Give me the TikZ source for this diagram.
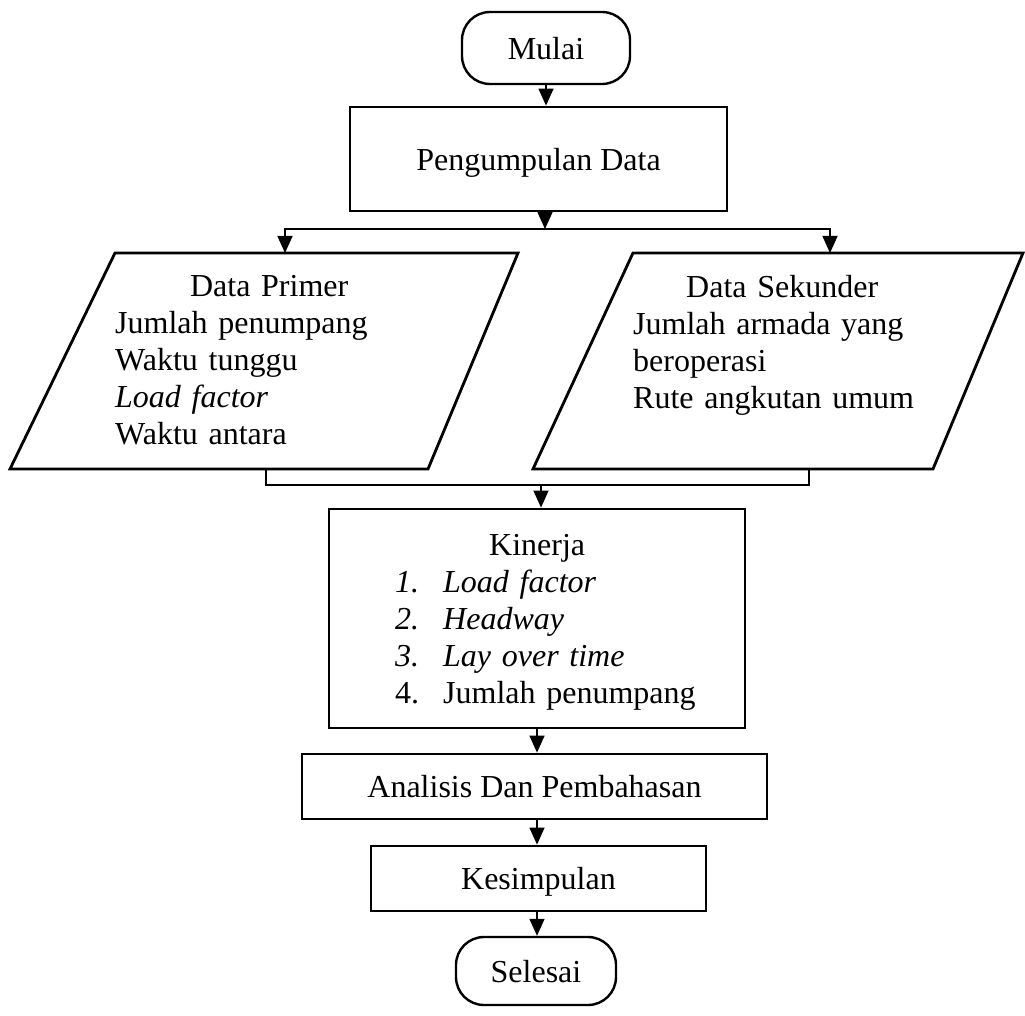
\documentclass[tikz,border=0pt]{standalone}
\usepackage{fontspec}
\setmainfont{Liberation Serif}
\usetikzlibrary{arrows.meta}
\begin{document}
\begin{tikzpicture}[x=1pt,y=-1pt,
  font=\fontsize{32}{37}\selectfont,
  box/.style={draw,line width=2.8pt,inner sep=0pt,text depth=0pt},
  term/.style={draw,line width=2.4pt,rounded corners=28pt,inner sep=0pt,text depth=0pt},
  para/.style={line width=2.8pt,line join=miter},
  conn/.style={line width=1.4pt,-{Triangle[length=17pt,width=15pt]}},
  wire/.style={line width=1.4pt},
  txt/.style={inner sep=0pt,align=left}]
\useasboundingbox (0,0) rectangle (1025,1016);

% terminals and boxes
\node[term,minimum width=168pt,minimum height=72pt] (mulai) at (546,48) {Mulai};
\node[box,minimum width=377pt,minimum height=104pt] (peng) at (538.5,159) {Pengumpulan Data};
\node[box,minimum width=416pt,minimum height=219pt] (kin) at (537,618.5) {};
\node[box,minimum width=465pt,minimum height=65pt] (ana) at (534.5,786.5) {Analisis Dan Pembahasan};
\node[box,minimum width=335pt,minimum height=65pt] (kes) at (538.5,878.5) {Kesimpulan};
\node[term,minimum width=160pt,minimum height=68pt] (sel) at (536,971) {Selesai};

% parallelograms
\draw[para] (115,253) coordinate (dp-nw) -- (518,253) -- (428,469) -- (10,469) -- cycle;
\draw[para] (633,253) coordinate (ds-nw) -- (1023,253) -- (933,469) -- (533,469) -- cycle;
\coordinate (dpin) at (285,253);
\coordinate (dsin) at (830,253);
\coordinate (dpout) at (266,469);
\coordinate (dsout) at (809,469);

\node[txt,text width=310pt,anchor=north west] (dptext) at (115,275)
  {\makebox[308pt][c]{Data Primer}\\
   Jumlah penumpang\\
   Waktu tunggu\\
   \textit{Load factor}\\
   Waktu antara};
\node[txt,text width=300pt,anchor=north west] (dstext) at (633,275)
  {\makebox[298pt][c]{Data Sekunder}\\
   \makebox[280pt][s]{Jumlah armada yang}\\
   beroperasi\\
   Rute angkutan umum};

\node[txt,text width=340pt,anchor=north west] (kintext) at (395,534)
  {\makebox[284pt][c]{Kinerja}\\
   \makebox[48pt][l]{\textit{1.}}\textit{Load factor}\\
   \makebox[48pt][l]{\textit{2.}}\textit{Headway}\\
   \makebox[48pt][l]{\textit{3.}}\textit{Lay over time}\\
   \makebox[48pt][l]{4.}Jumlah penumpang};

% connectors
\draw[conn] (mulai.south) -- (mulai.south |- peng.north);
\coordinate (split) at (545,229);
\draw[conn] (split |- peng.south) -- (split);
\draw[conn] (split) -| (dpin);
\draw[conn] (split) -| (dsin);
\coordinate (merge) at (541,485);
\draw[wire] (dpout) |- (merge) -| (dsout);
\draw[conn] (merge) -- (merge |- kin.north);
\draw[conn] (kin.south) -- (kin.south |- ana.north);
\draw[conn] (ana.south -| kin.south) -- (kin.south |- kes.north);
\draw[conn] (kes.south -| kin.south) -- (kin.south |- sel.north);
\end{tikzpicture}
\end{document}
